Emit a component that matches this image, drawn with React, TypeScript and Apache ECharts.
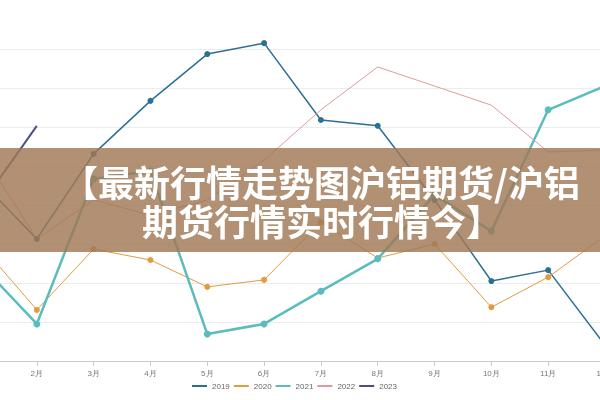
import React, { useEffect, useRef } from "react";
import * as echarts from "echarts";

const months = ["1月", "2月", "3月", "4月", "5月", "6月", "7月", "8月", "9月", "10月", "11月", "12月"];
const seriesNames = ["2019", "2020", "2021", "2022", "2023"];
const s2019 = [16640, 15130, 17310, 18670, 19870, 20150, 18180, 18030, 16130, 14050, 14330, 12410];
const s2020 = [15000, 13310, 14870, 14590, 13900, 14080, 15560, 14640, 15000, 13380, 14150, 15210];
const s2021 = [14490, 12950, 16670, 16870, 12690, 12950, 13790, 14620, 16260, 15330, 18440, 19050];
const s2022 = [17410, 15130, 16130, 15740, 16130, 17150, 18440, 19540, 19050, 18560, 17360, 17410];
const s2023 = [15970, 18030];
const bannerLine1 = "【最新行情走势图沪铝期货/沪铝";
const bannerLine2 = "期货行情实时行情今】";

export default function App() {
  const ref = useRef<HTMLDivElement>(null);
  useEffect(() => {
    if (!ref.current) return;
    const chart = echarts.init(ref.current, undefined, { renderer: "svg" });
    const colors = ["#2b7094", "#e59a3c", "#5bbcbe", "#dc9c9c", "#4a4e86"];
    chart.setOption({
      animation: false,
      color: colors,
      grid: { left: -20, right: -5, top: 17.8, bottom: 39, outerBoundsMode: "none" },
      xAxis: {
        type: "category",
        data: months,
        boundaryGap: false,
        axisLine: { lineStyle: { color: "#cccccc" } },
        axisTick: { show: true, length: 5, lineStyle: { color: "#cccccc" } },
        axisLabel: { color: "#777", fontSize: 8, margin: 8, showMinLabel: false },
      },
      yAxis: {
        type: "value",
        min: 12000,
        max: 20800,
        interval: 1000,
        axisLine: { show: false },
        axisTick: { show: false },
        axisLabel: { show: false },
        splitLine: { show: true, showMaxLine: false, lineStyle: { color: "#ececec" } },
      },
      legend: {
        data: seriesNames,
        left: 187,
        bottom: 5,
        icon: "rect",
        itemWidth: 15,
        itemHeight: 2,
        itemGap: 4,
        textStyle: { color: "#666", fontSize: 8 },
      },
      series: [
        { name: "2019", type: "line", data: s2019, symbol: "circle", symbolSize: 6, lineStyle: { width: 1.5 } },
        { name: "2020", type: "line", data: s2020, symbol: "circle", symbolSize: 6, lineStyle: { width: 1 } },
        { name: "2021", type: "line", data: s2021, symbol: "circle", symbolSize: 7, lineStyle: { width: 2.5 } },
        { name: "2022", type: "line", data: s2022, symbol: "none", lineStyle: { width: 1 } },
        { name: "2023", type: "line", data: s2023, symbol: "none", lineStyle: { width: 2 } },
      ],
      graphic: [
        {
          type: "rect",
          shape: { x: 0, y: 148, width: 600, height: 104 },
          style: { fill: "rgba(160,120,85,0.82)" },
          z: 100,
        },
        {
          type: "text",
          x: 62,
          y: 181,
          z: 101,
          style: {
            text: bannerLine1,
            fill: "#ffffff",
            font: "bold 36px 'Noto Sans CJK SC'",
            textAlign: "left",
            textVerticalAlign: "middle",
          },
        },
        {
          type: "text",
          x: 142,
          y: 220,
          z: 101,
          style: {
            text: bannerLine2,
            fill: "#ffffff",
            font: "bold 36px 'Noto Sans CJK SC'",
            textAlign: "left",
            textVerticalAlign: "middle",
          },
        },
      ],
    });
    return () => chart.dispose();
  }, []);
  return <div ref={ref} style={{ width: 600, height: 400, position: "fixed", left: 0, top: 0 }} />;
}
